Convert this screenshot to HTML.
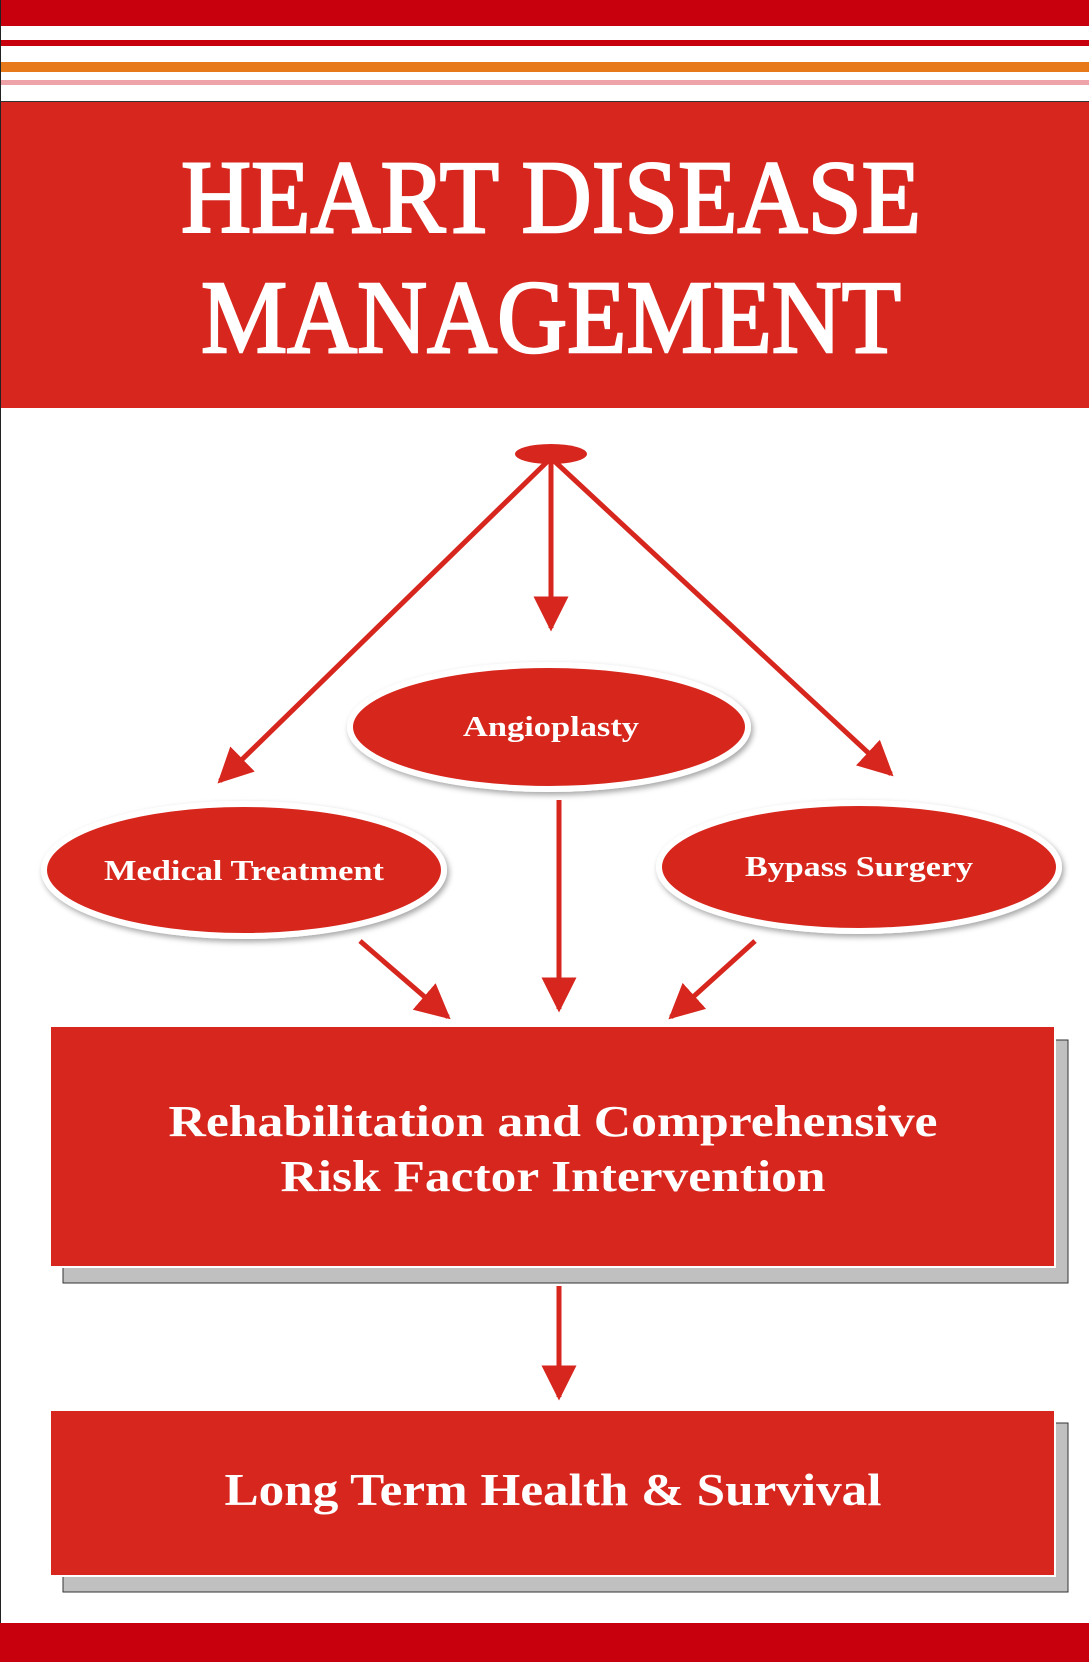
<!DOCTYPE html>
<html><head><meta charset="utf-8"><style>
html,body{margin:0;padding:0;background:#fff}
svg{display:block}
</style></head><body>
<svg width="1089" height="1662" viewBox="0 0 1089 1662" xmlns="http://www.w3.org/2000/svg">
<defs>
<marker id="ah" viewBox="0 0 10 10" refX="9" refY="5" markerWidth="7" markerHeight="7" orient="auto" markerUnits="strokeWidth">
<path d="M0,0 L10,5 L0,10 z" fill="#d7261e"/></marker>
<filter id="sh" x="-10%" y="-20%" width="120%" height="140%"><feDropShadow dx="2" dy="3" stdDeviation="3" flood-color="#000" flood-opacity="0.35"/></filter>
</defs>
<rect x="0" y="0" width="1089" height="1662" fill="#fff"/>
<rect x="0" y="0" width="1089" height="26" fill="#c8000e"/>
<rect x="0" y="40" width="1089" height="6" fill="#c8000e"/>
<rect x="0" y="62" width="1089" height="10" fill="#e8791a"/>
<rect x="0" y="80" width="1089" height="5" fill="#eda3a8"/>
<rect x="0" y="101" width="1089" height="1" fill="#333"/>
<rect x="0" y="102" width="1089" height="306" fill="#d7261e"/>
<rect x="0" y="0" width="1" height="1662" fill="#222"/>
<g font-family="Liberation Serif, serif" font-size="104" fill="#fff" stroke="#fff" stroke-width="2.5" text-anchor="middle">
<text x="551" y="232" textLength="740" lengthAdjust="spacingAndGlyphs">HEART DISEASE</text>
<text x="551" y="352" textLength="700" lengthAdjust="spacingAndGlyphs">MANAGEMENT</text>
</g>

<ellipse cx="551" cy="454" rx="36" ry="10" fill="#d7261e"/>
<g stroke="#d7261e" stroke-width="5" fill="none">
<line x1="551" y1="458" x2="220" y2="781" marker-end="url(#ah)"/>
<line x1="551" y1="460" x2="551" y2="628" marker-end="url(#ah)"/>
<line x1="551" y1="458" x2="891" y2="774" marker-end="url(#ah)"/>
<line x1="360" y1="941" x2="448" y2="1017" marker-end="url(#ah)"/>
<line x1="559" y1="800" x2="559" y2="1009" marker-end="url(#ah)"/>
<line x1="755" y1="941" x2="671" y2="1017" marker-end="url(#ah)"/>
<line x1="559" y1="1286" x2="559" y2="1397" marker-end="url(#ah)"/>
</g>

<g filter="url(#sh)">
<ellipse cx="549" cy="727" rx="199" ry="62" fill="#d7261e" stroke="#fff" stroke-width="6"/>
<ellipse cx="244" cy="870" rx="200" ry="66" fill="#d7261e" stroke="#fff" stroke-width="6"/>
<ellipse cx="859" cy="867" rx="200" ry="64" fill="#d7261e" stroke="#fff" stroke-width="6"/>
</g>
<g font-family="Liberation Serif, serif" font-weight="bold" fill="#fff" text-anchor="middle" lengthAdjust="spacingAndGlyphs">
<text x="551" y="736" font-size="29" textLength="176" lengthAdjust="spacingAndGlyphs">Angioplasty</text>
<text x="244" y="880" font-size="29" textLength="280" lengthAdjust="spacingAndGlyphs">Medical Treatment</text>
<text x="859" y="876" font-size="29" textLength="228" lengthAdjust="spacingAndGlyphs">Bypass Surgery</text>
</g>

<rect x="63" y="1040" width="1005" height="243" fill="#c0c0c0" stroke="#333" stroke-width="1"/>
<rect x="50" y="1026" width="1005" height="241" fill="#d7261e" stroke="#fff" stroke-width="2"/>
<g font-family="Liberation Serif, serif" font-weight="bold" fill="#fff" text-anchor="middle" font-size="44">
<text x="553" y="1136" textLength="769" lengthAdjust="spacingAndGlyphs">Rehabilitation and Comprehensive</text>
<text x="553" y="1191" textLength="545" lengthAdjust="spacingAndGlyphs">Risk Factor Intervention</text>
</g>

<rect x="63" y="1423" width="1005" height="169" fill="#c0c0c0" stroke="#333" stroke-width="1"/>
<rect x="50" y="1410" width="1005" height="166" fill="#d7261e" stroke="#fff" stroke-width="2"/>
<text x="553" y="1505" font-family="Liberation Serif, serif" font-weight="bold" fill="#fff" text-anchor="middle" font-size="46" textLength="657" lengthAdjust="spacingAndGlyphs">Long Term Health &amp; Survival</text>

<rect x="0" y="1623" width="1089" height="39" fill="#c8000e"/>
</svg>
</body></html>
